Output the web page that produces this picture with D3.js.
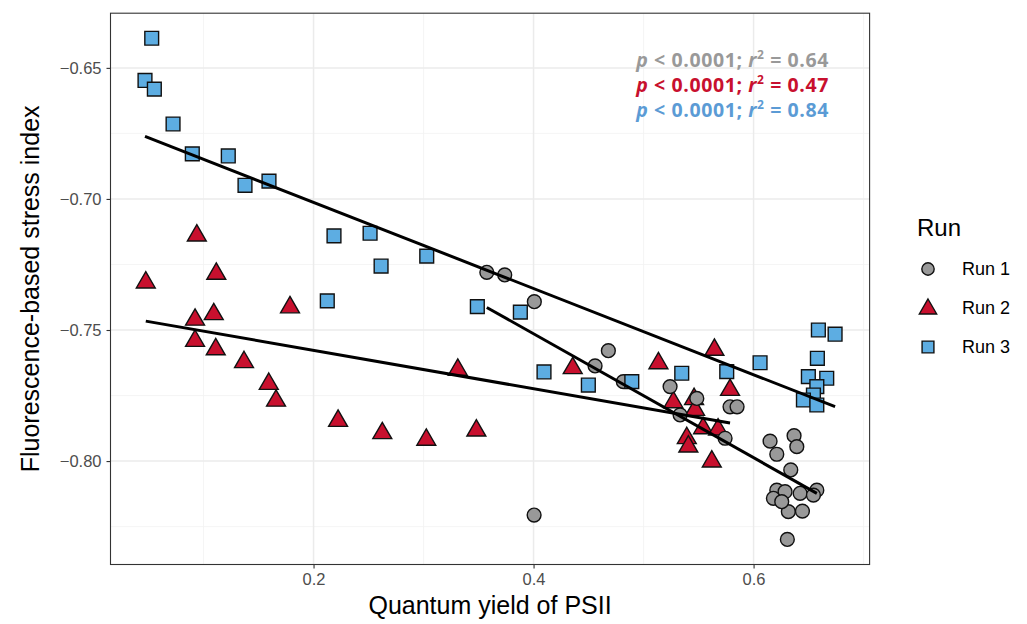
<!DOCTYPE html>
<html>
<head>
<meta charset="utf-8">
<script src="https://cdn.jsdelivr.net/npm/d3@7"></script>
<style>
  body { margin: 0; background: #fff; }
  svg text { font-family: "Liberation Sans", Arial, sans-serif; }
</style>
</head>
<body>
<div id="chart"></div>
<script>
// Run 1 (circles)
var run1X = [0.3575, 0.3738, 0.4007, 0.4005, 0.4680, 0.4559, 0.4816, 0.5241, 0.5484, 0.5332, 0.5741, 0.5786, 0.5850,
             0.6150, 0.6368, 0.6393, 0.6211, 0.6338, 0.6211, 0.6286, 0.6180, 0.6423, 0.6575, 0.6544, 0.6316, 0.6444, 0.6307, 0.6256];
var run1Y = [-0.7280, -0.7290, -0.7392, -0.8206, -0.7579, -0.7637, -0.7697, -0.7716, -0.7761, -0.7824, -0.7913, -0.7793, -0.7793,
             -0.7924, -0.7903, -0.7945, -0.7974, -0.8034, -0.8111, -0.8117, -0.8142, -0.8123, -0.8111, -0.8130, -0.8193, -0.8191, -0.8299, -0.8155];
// Run 2 (triangles)
var run2X = [0.0939, 0.0475, 0.1116, 0.0923, 0.1093, 0.1786, 0.0923, 0.1111, 0.1368, 0.1593, 0.1659, 0.2223, 0.2625, 0.3025,
             0.3480, 0.3311, 0.4356, 0.5135, 0.5644, 0.5786, 0.5271, 0.5459, 0.5468, 0.5393, 0.5407, 0.5541, 0.5620, 0.5677];
var run2Y = [-0.7134, -0.7313, -0.7280, -0.7455, -0.7434, -0.7408, -0.7536, -0.7568, -0.7617, -0.7700, -0.7764, -0.7841, -0.7888, -0.7913,
             -0.7878, -0.7646, -0.7640, -0.7621, -0.7570, -0.7723, -0.7770, -0.7758, -0.7799, -0.7907, -0.7939, -0.7869, -0.7996, -0.7874];
// Run 3 (squares)
var run3X = [0.0529, 0.0468, 0.0553, 0.0723, 0.0898, 0.1225, 0.1377, 0.1595, 0.2186, 0.2514, 0.2614, 0.3029, 0.2125, 0.3489, 0.3880,
             0.4095, 0.4498, 0.4893, 0.5347, 0.5756, 0.6059, 0.6589, 0.6741, 0.6580, 0.6498, 0.6665, 0.6575, 0.6544, 0.6453, 0.6575];
var run3Y = [-0.6387, -0.6548, -0.6581, -0.6714, -0.6828, -0.6836, -0.6948, -0.6932, -0.7141, -0.7131, -0.7256, -0.7218, -0.7389, -0.7411, -0.7432,
             -0.7660, -0.7710, -0.7697, -0.7665, -0.7659, -0.7625, -0.7500, -0.7516, -0.7608, -0.7678, -0.7684, -0.7716, -0.7748, -0.7767, -0.7786];

var runNames = ["Run 1", "Run 2", "Run 3"];
var runColors = ["#999999", "#C8102E", "#5DADE2"];
var statColors = ["#999999", "#C8102E", "#5B9BD5"];
var statP = ["0.0001", "0.0001", "0.0001"];
var statR2 = ["0.64", "0.47", "0.84"];
var xTicks = [0.2, 0.4, 0.6];
var yTicks = [-0.80, -0.75, -0.70, -0.65];

var W = 1027, H = 624;
var margin = { left: 110.5, right: W - 869.6, top: 13.2, bottom: H - 564.5 };
var width = W - margin.left - margin.right;
var height = H - margin.top - margin.bottom;

var runs = [
  { name: runNames[0], shape: "circle", xs: run1X, ys: run1Y },
  { name: runNames[1], shape: "triangle", xs: run2X, ys: run2Y },
  { name: runNames[2], shape: "square", xs: run3X, ys: run3Y }
];
runs.forEach(function(r, i){
  r.color = runColors[i];
  r.pts = r.xs.map(function(x, j){ return { x: x, y: r.ys[j] }; });
});

// ggplot-like 5% expansion
var allX = run1X.concat(run2X, run3X), allY = run1Y.concat(run2Y, run3Y);
function expand(ext){ var d = (ext[1] - ext[0]) * 0.05; return [ext[0] - d, ext[1] + d]; }

var x = d3.scaleLinear().domain(expand(d3.extent(allX))).range([0, width]);
var y = d3.scaleLinear().domain(expand(d3.extent(allY))).range([height, 0]);

var svg = d3.select("#chart").append("svg")
    .attr("width", W).attr("height", H);
var g = svg.append("g")
    .attr("transform", "translate(" + margin.left + "," + margin.top + ")");

g.append("rect").attr("width", width).attr("height", height).attr("fill", "#fff");

// grid
var xMinor = [0.1, 0.3, 0.5, 0.7], yMinor = [-0.825, -0.775, -0.725, -0.675];
g.selectAll(".xminor").data(xMinor).enter().append("line")
    .attr("x1", function(d){ return x(d); }).attr("x2", function(d){ return x(d); })
    .attr("y1", 0).attr("y2", height).attr("stroke", "#f2f2f2").attr("stroke-width", 0.8);
g.selectAll(".yminor").data(yMinor).enter().append("line")
    .attr("y1", function(d){ return y(d); }).attr("y2", function(d){ return y(d); })
    .attr("x1", 0).attr("x2", width).attr("stroke", "#f2f2f2").attr("stroke-width", 0.8);
g.selectAll(".xmajor").data(xTicks).enter().append("line")
    .attr("x1", function(d){ return x(d); }).attr("x2", function(d){ return x(d); })
    .attr("y1", 0).attr("y2", height).attr("stroke", "#ebebeb").attr("stroke-width", 1.5);
g.selectAll(".ymajor").data(yTicks).enter().append("line")
    .attr("y1", function(d){ return y(d); }).attr("y2", function(d){ return y(d); })
    .attr("x1", 0).attr("x2", width).attr("stroke", "#ebebeb").attr("stroke-width", 1.5);

// axes
var xAxis = g.append("g").attr("transform", "translate(0," + height + ")")
    .call(d3.axisBottom(x).tickValues(xTicks).tickSize(4).tickPadding(5).tickFormat(d3.format(".1f")));
var yAxis = g.append("g")
    .call(d3.axisLeft(y).tickValues(yTicks).tickSize(4).tickPadding(5)
      .tickFormat(function(d){ return d3.format(".2f")(d).replace("-", "\u2212"); }));
[xAxis, yAxis].forEach(function(a){
  a.select(".domain").remove();
  a.selectAll(".tick line").attr("stroke", "#333").attr("stroke-width", 1.1);
  a.selectAll(".tick text").attr("fill", "#4d4d4d").style("font-size", "16.5px")
    .style("font-family", "'Liberation Sans', Arial, sans-serif");
});

// points: triangles first, then circles, then squares
var symSize = { circle: 150, triangle: 155, square: 190 };
function symType(s){ return s === "circle" ? d3.symbolCircle : s === "triangle" ? d3.symbolTriangle : d3.symbolSquare; }
[1, 0, 2].forEach(function(i){
  var r = runs[i];
  g.append("g").selectAll("path").data(r.pts).enter().append("path")
    .attr("d", d3.symbol().type(symType(r.shape)).size(symSize[r.shape]))
    .attr("transform", function(d){
      var dy = r.shape === "triangle" ? 1.5 : 0;
      return "translate(" + x(d.x) + "," + (y(d.y) + dy) + ")";
    })
    .attr("fill", r.color).attr("stroke", "#111").attr("stroke-width", 1.4);
});

// linear fits
function linFit(xs, ys){
  var mx = d3.mean(xs), my = d3.mean(ys), sxy = 0, sxx = 0;
  xs.forEach(function(v, i){ sxy += (v - mx) * (ys[i] - my); sxx += (v - mx) * (v - mx); });
  var b = sxy / sxx, a = my - b * mx;
  var ext = d3.extent(xs);
  return [{ x: ext[0], y: a + b * ext[0] }, { x: ext[1], y: a + b * ext[1] }];
}
var line = d3.line().x(function(d){ return x(d.x); }).y(function(d){ return y(d.y); });
runs.forEach(function(r){
  g.append("path").datum(linFit(r.xs, r.ys)).attr("d", line)
    .attr("fill", "none").attr("stroke", "#000").attr("stroke-width", 3);
});

// panel border
g.append("rect").attr("width", width).attr("height", height)
    .attr("fill", "none").attr("stroke", "#333").attr("stroke-width", 1.1);

// stats annotations
var ann = svg.append("g");
statR2.forEach(function(r2, i){
  var t = ann.append("text")
      .attr("x", 829).attr("y", 67 + i * 25)
      .attr("text-anchor", "end")
      .attr("fill", statColors[i])
      .style("font-family", "'Open Sans', 'Noto Sans', sans-serif")
      .style("font-weight", "bold").style("font-size", "19.5px")
      .style("letter-spacing", "0.6px");
  t.append("tspan").style("font-style", "italic").text("p");
  t.append("tspan").text(" < " + statP[i] + "; ");
  t.append("tspan").style("font-style", "italic").text("r");
  t.append("tspan").attr("dy", -8).style("font-size", "12px").text("2");
  t.append("tspan").attr("dy", 8).text(" = " + r2);
});

// axis titles
svg.append("text").attr("x", margin.left + width / 2).attr("y", 614)
    .attr("text-anchor", "middle").attr("fill", "#000")
    .style("font-size", "25px").text("Quantum yield of PSII");
svg.append("text")
    .attr("transform", "translate(39," + (margin.top + height / 2) + ") rotate(-90)")
    .attr("text-anchor", "middle").attr("fill", "#000")
    .style("font-size", "25px").text("Fluorescence-based stress index");

// legend
var leg = svg.append("g").attr("transform", "translate(917,0)");
leg.append("text").attr("x", 0).attr("y", 236).style("font-size", "24px").attr("fill", "#000").text("Run");
var legSize = { circle: 120, triangle: 130, square: 140 };
runs.forEach(function(r, i){
  var yy = 269 + i * 39;
  leg.append("path")
    .attr("d", d3.symbol().type(symType(r.shape)).size(legSize[r.shape]))
    .attr("transform", "translate(11," + (yy + (r.shape === "triangle" ? 1 : 0)) + ")")
    .attr("fill", r.color).attr("stroke", "#111").attr("stroke-width", 1.4);
  leg.append("text").attr("x", 45).attr("y", yy).attr("dy", "0.35em")
    .style("font-size", "18px").attr("fill", "#000").text(r.name);
});
</script>
</body>
</html>
